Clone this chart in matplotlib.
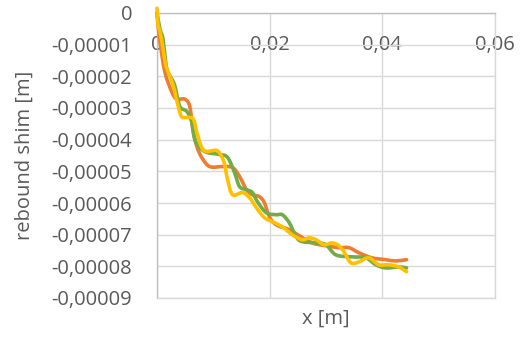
import numpy as np
import matplotlib
matplotlib.use("Agg")
import matplotlib.pyplot as plt
from matplotlib.path import Path
from matplotlib.patches import PathPatch

# rebound shim deflection along the shim, three runs
# x in m, deflection in units of 1e-5 m
x_orange = [0.0, 0.00009, 0.00053, 0.00141, 0.00265, 0.00353, 0.00494, 0.00582,
            0.00635, 0.00706, 0.00794, 0.00935, 0.01165, 0.01341, 0.01465, 0.01589,
            0.01694, 0.01818, 0.01906, 0.01994, 0.02118, 0.02347, 0.02524, 0.02753,
            0.03000, 0.03230, 0.03406, 0.03583, 0.03812, 0.04060, 0.04236, 0.04430]
y_orange = [0.0, -0.19, -0.92, -1.87, -2.50, -2.72, -2.72, -2.95,
            -3.68, -4.21, -4.56, -4.85, -4.85, -4.88, -5.16, -5.58,
            -5.74, -5.80, -5.99, -6.43, -6.69, -6.84, -7.03, -7.26,
            -7.35, -7.41, -7.41, -7.57, -7.73, -7.79, -7.83, -7.79]

x_green = [0.0, 0.00053, 0.00106, 0.00159, 0.00194, 0.00265, 0.00318, 0.00406,
           0.00530, 0.00618, 0.00671, 0.00759, 0.00883, 0.01112, 0.01253, 0.01377,
           0.01465, 0.01589, 0.01694, 0.01783, 0.01942, 0.02118, 0.02224, 0.02347,
           0.02471, 0.02577, 0.02824, 0.03000, 0.03177, 0.03459, 0.03707, 0.03883,
           0.04060, 0.04289, 0.04430]
y_green = [0.0, -0.51, -0.82, -1.62, -1.87, -2.09, -2.31, -2.95,
           -3.11, -3.45, -3.99, -4.25, -4.40, -4.47, -4.56, -5.04,
           -5.48, -5.58, -5.67, -5.96, -6.31, -6.37, -6.37, -6.62,
           -7.07, -7.22, -7.26, -7.32, -7.64, -7.70, -7.73, -7.95,
           -8.05, -8.02, -8.05]

x_yellow = [0.0, 0.00018, 0.00053, 0.00088, 0.00141, 0.00177, 0.00229, 0.00282,
            0.00335, 0.00406, 0.00459, 0.00635, 0.00706, 0.00794, 0.00883, 0.01059,
            0.01147, 0.01200, 0.01253, 0.01341, 0.01518, 0.01641, 0.01765, 0.01906,
            0.02047, 0.02224, 0.02400, 0.02577, 0.02700, 0.02824, 0.02965, 0.03106,
            0.03230, 0.03318, 0.03442, 0.03583, 0.03759, 0.03936, 0.04112, 0.04289,
            0.04430]
y_yellow = [0.15, -0.35, -0.60, -0.92, -1.52, -1.77, -2.00, -2.25,
            -2.63, -3.14, -3.30, -3.33, -3.77, -4.25, -4.37, -4.34,
            -4.53, -4.78, -5.26, -5.74, -5.67, -5.83, -6.15, -6.46,
            -6.59, -6.75, -7.00, -7.16, -7.10, -7.16, -7.32, -7.26,
            -7.35, -7.54, -7.89, -7.86, -7.73, -7.95, -7.95, -8.02,
            -8.17]

x_ticks = [0, 0.02, 0.04, 0.06]
x_ticklabels = ["0", "0,02", "0,04", "0,06"]
y_ticks = [0, -1e-5, -2e-5, -3e-5, -4e-5, -5e-5, -6e-5, -7e-5, -8e-5, -9e-5]
y_ticklabels = ["0", "-0,00001", "-0,00002", "-0,00003", "-0,00004", "-0,00005",
                "-0,00006", "-0,00007", "-0,00008", "-0,00009"]


def smooth_path(xs, ys):
    # excel-like smoothed line: cubic bezier through every point
    p = np.column_stack([xs, ys])
    ext = np.vstack([p[0], p, p[-1]])
    verts = [p[0]]
    codes = [Path.MOVETO]
    for i in range(len(p) - 1):
        p0, p1, p2, p3 = ext[i], ext[i + 1], ext[i + 2], ext[i + 3]
        verts += [p1 + (p2 - p0) / 6, p2 - (p3 - p1) / 6, p2]
        codes += [Path.CURVE4] * 3
    return Path(verts, codes)


plt.rcParams['font.family'] = ['Open Sans', 'DejaVu Sans']

fig = plt.figure(figsize=(5.24, 3.38), dpi=100)
ax = fig.add_axes([157 / 524, 1 - 298 / 338, 338 / 524, 285 / 338])

series = [(x_orange, y_orange, "#ED7D31"),
          (x_green, y_green, "#70AD47"),
          (x_yellow, y_yellow, "#FFC000")]
for xs, ys, c in series:
    path = smooth_path(xs, np.array(ys) * 1e-5)
    ax.add_patch(PathPatch(path, facecolor="none", edgecolor=c, lw=2.6,
                           joinstyle="round", capstyle="round",
                           clip_on=False, zorder=3))

ax.set_xlim(0, 0.06)
ax.set_ylim(-9e-5, 0)
ax.set_xticks(x_ticks)
ax.set_xticklabels(x_ticklabels)
ax.set_yticks(y_ticks)
ax.set_yticklabels(y_ticklabels)

ax.grid(True, color="#D9D9D9", lw=1.0)
ax.set_axisbelow(True)
for side in ["right", "bottom"]:
    ax.spines[side].set_color("#D9D9D9")
    ax.spines[side].set_linewidth(1.0)
for side in ["left", "top"]:
    ax.spines[side].set_color("#BFBFBF")
    ax.spines[side].set_linewidth(1.0)

ax.tick_params(axis="x", length=0, top=False, bottom=False,
               labeltop=True, labelbottom=False, pad=-30,
               labelsize=14.5, labelcolor="#595959")
ax.tick_params(axis="y", length=0, pad=18, labelsize=14.5, labelcolor="#595959")

ax.set_xlabel("x [m]", fontsize=14.5, color="#595959", labelpad=8)
ax.set_ylabel("rebound shim [m]", fontsize=14.5, color="#595959", labelpad=12)

fig.savefig("out.png", dpi=100)
